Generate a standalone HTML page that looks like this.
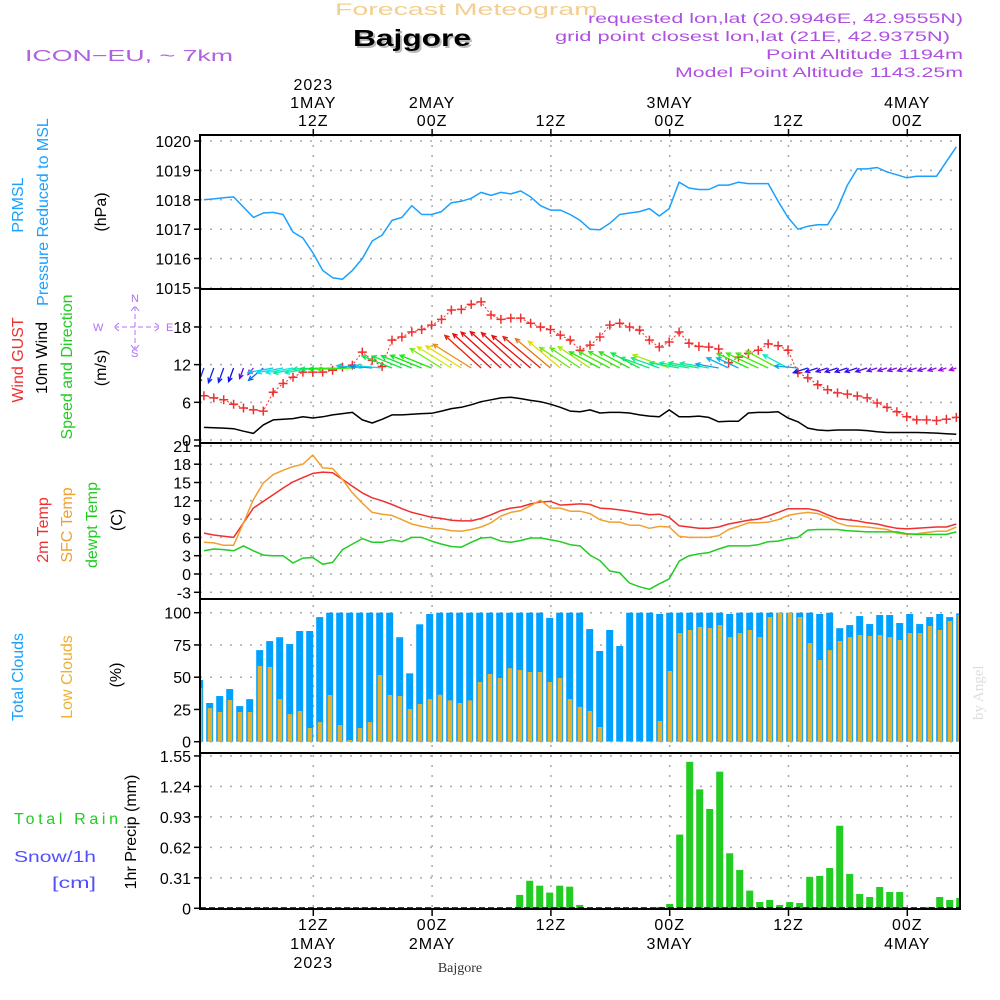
<!DOCTYPE html>
<html><head><meta charset="utf-8"><style>
html,body{margin:0;padding:0;background:#fff;}
svg{display:block;font-family:"Liberation Sans",sans-serif;}
</style></head><body>
<svg id="chart" width="1000" height="1000" viewBox="0 0 1000 1000" xmlns="http://www.w3.org/2000/svg">
<g id="hdr">
<text x="335" y="15" font-size="17" fill="#f3cf8f" textLength="263" lengthAdjust="spacingAndGlyphs">Forecast Meteogram</text>
<text x="355" y="48" font-size="23" font-weight="bold" fill="#bbb" textLength="118" lengthAdjust="spacingAndGlyphs">Bajgore</text>
<text x="353" y="46" font-size="23" font-weight="bold" fill="#000" textLength="118" lengthAdjust="spacingAndGlyphs">Bajgore</text>
<text x="25" y="61" font-size="16" fill="#b060e0" textLength="208" lengthAdjust="spacingAndGlyphs">ICON−EU, ~ 7km</text>
<g font-size="14" fill="#b050e0" text-anchor="end">
<text x="963" y="23" textLength="375" lengthAdjust="spacingAndGlyphs">requested lon,lat (20.9946E, 42.9555N)</text>
<text x="950" y="41" textLength="395" lengthAdjust="spacingAndGlyphs">grid point closest lon,lat (21E, 42.9375N)</text>
<text x="963" y="59" textLength="197" lengthAdjust="spacingAndGlyphs">Point Altitude 1194m</text>
<text x="963" y="77" textLength="288" lengthAdjust="spacingAndGlyphs">Model Point Altitude 1143.25m</text>
</g>
<text transform="translate(983,720) rotate(-90)" font-family="Liberation Serif,serif" font-size="15" fill="#ddd">by Angel</text>
<text x="460" y="972" font-family="Liberation Serif,serif" font-size="14" fill="#333" text-anchor="middle">Bajgore</text>
</g>
<g id="ylabels" font-size="16">
<text transform="translate(23,205) rotate(-90)" text-anchor="middle" fill="#1aa0ff">PRMSL</text>
<text transform="translate(48,212) rotate(-90)" text-anchor="middle" fill="#1aa0ff">Pressure Reduced to MSL</text>
<text transform="translate(106,212) rotate(-90)" text-anchor="middle" fill="#000">(hPa)</text>
<text transform="translate(23,360) rotate(-90)" text-anchor="middle" fill="#f03030">Wind GUST</text>
<text transform="translate(47,358) rotate(-90)" text-anchor="middle" fill="#000">10m Wind</text>
<text transform="translate(72,367) rotate(-90)" text-anchor="middle" fill="#22cc22">Speed and Direction</text>
<text transform="translate(106,368) rotate(-90)" text-anchor="middle" fill="#000">(m/s)</text>
<text transform="translate(48,530) rotate(-90)" text-anchor="middle" fill="#f03030">2m Temp</text>
<text transform="translate(72,525) rotate(-90)" text-anchor="middle" fill="#f0a030">SFC Temp</text>
<text transform="translate(97,525) rotate(-90)" text-anchor="middle" fill="#22cc22">dewpt Temp</text>
<text transform="translate(122,520) rotate(-90)" text-anchor="middle" fill="#000">(C)</text>
<text transform="translate(23,677) rotate(-90)" text-anchor="middle" fill="#1aa0ff">Total Clouds</text>
<text transform="translate(72,677) rotate(-90)" text-anchor="middle" fill="#f0b030">Low Clouds</text>
<text transform="translate(121,675) rotate(-90)" text-anchor="middle" fill="#000">(%)</text>
<text transform="translate(136,832) rotate(-90)" text-anchor="middle" fill="#000">1hr Precip (mm)</text>
<text x="14" y="824" fill="#22cc22" textLength="104" lengthAdjust="spacing">Total   Rain</text>
<text x="14" y="862" fill="#5050ff" textLength="82" lengthAdjust="spacingAndGlyphs">Snow/1h</text>
<text x="52" y="888" fill="#5050ff" textLength="44" lengthAdjust="spacingAndGlyphs">[cm]</text>
</g>
<g id="compass" fill="#b070f0" stroke="#b070f0" font-size="11">
<text x="93" y="331" stroke="none">W</text>
<text x="166" y="331" stroke="none">E</text>
<text x="131" y="302" stroke="none">N</text>
<text x="131" y="357" stroke="none">S</text>
<path d="M114 327H160M135 306V350M119 323L114 327L119 331M155 323L160 327L155 331M131 311L135 306L139 311M131 345L135 350L139 345" fill="none" stroke-width="1" stroke-dasharray="5,3"/>
</g>
<g id="plots"></g>
</svg>
<script>
// ---- data (hours 1..77 from 1 May 00Z) ----
const pressure=[1018.0,1018.03,1018.07,1018.1,1017.75,1017.4,1017.55,1017.57,1017.5,1016.9,1016.7,1016.2,1015.6,1015.35,1015.3,1015.6,1016.0,1016.6,1016.8,1017.3,1017.4,1017.8,1017.5,1017.5,1017.6,1017.9,1017.95,1018.05,1018.25,1018.15,1018.25,1018.2,1018.3,1018.1,1017.8,1017.65,1017.65,1017.5,1017.3,1017.0,1016.98,1017.2,1017.5,1017.55,1017.6,1017.7,1017.45,1017.7,1018.6,1018.4,1018.35,1018.35,1018.5,1018.5,1018.6,1018.55,1018.55,1018.55,1017.95,1017.4,1017.0,1017.1,1017.15,1017.15,1017.7,1018.5,1019.05,1019.05,1019.1,1018.95,1018.85,1018.75,1018.8,1018.8,1018.8,1019.3,1019.8];
const gust=[7.05,6.7,6.4,5.7,5.1,4.8,4.6,7.6,9.0,10.0,10.8,10.8,10.8,11.1,11.6,11.9,14,12.7,11.7,15.9,16.4,17.2,17.6,18.3,19.2,20.7,20.8,21.6,22,19.9,19.2,19.4,19.4,18.6,18,17.6,16.7,15.9,14.3,15.1,16.4,18.3,18.6,18,17.5,15.9,14.8,15.6,17.2,15.4,14.9,14.8,14.5,12.3,13.2,13.8,14.3,15.3,15,14.3,10.7,9.9,8.8,8.0,7.5,7.3,7.0,6.7,5.9,5.2,4.5,3.7,3.2,3.2,3.1,3.3,3.6];
const windSpeed=[2.0,1.95,1.9,1.8,1.4,1.05,2.4,3.2,3.3,3.4,3.7,3.5,3.7,4.0,4.2,4.4,3.2,2.7,3.3,4.0,4.0,4.1,4.2,4.25,4.6,5.0,5.2,5.6,6.1,6.4,6.7,6.8,6.6,6.3,6.1,5.7,5.2,4.6,4.5,4.8,4.3,4.4,4.4,4.3,4.0,3.8,3.7,4.8,3.7,3.7,3.8,3.6,2.9,3.0,3.0,4.3,4.4,4.4,4.5,3.5,2.9,1.9,1.6,1.5,1.6,1.6,1.6,1.5,1.3,1.2,1.2,1.2,1.2,1.15,1.1,1.0,0.9];
const windDir=[20,20,20,20,20,40,50,80,80,80,80,80,88,88,88,88,95,95,95,112,112,112,112,112,122,122,122,122,132,132,132,132,132,130,130,130,130,124,124,124,118,118,118,118,118,110,110,110,100,100,100,100,100,115,115,115,115,115,118,118,95,72,72,72,72,72,72,72,72,72,72,72,72,72,72,72,72];
const temp2m=[6.7,6.4,6.2,6.0,8.4,10.8,11.9,13.0,14.1,15.1,15.8,16.5,16.7,16.6,15.5,14.4,13.3,12.5,12.0,11.4,10.7,10.1,9.7,9.3,9.1,8.8,8.7,8.7,9.1,9.7,10.4,10.8,11.0,11.5,11.8,11.9,11.3,11.4,11.5,11.4,10.8,10.7,10.5,10.3,10.0,9.7,9.8,9.3,7.9,7.7,7.5,7.5,7.7,8.2,8.5,8.8,9.0,9.5,10.1,10.7,10.7,10.7,10.4,9.7,9.1,8.9,8.7,8.4,8.2,7.8,7.5,7.4,7.5,7.6,7.7,7.7,8.2];
const tempSfc=[5.2,5.1,4.7,4.7,8.4,12.2,14.9,16.3,17.0,17.6,18.0,19.5,17.4,17.3,15.5,13.3,11.6,10.1,9.8,9.6,8.9,8.2,7.8,7.5,7.4,7.1,7.0,7.3,7.7,8.4,9.5,10.1,10.4,11.2,12.1,10.8,10.8,10.3,10.3,9.9,8.9,8.5,8.5,8.0,8.0,7.5,7.8,7.7,6.2,6.0,6.0,6.0,6.3,7.3,7.8,8.4,8.4,8.5,8.9,9.6,9.9,10.1,9.9,9.3,8.4,7.9,7.8,7.7,7.5,7.3,6.7,6.5,6.6,6.8,7.0,7.0,7.7];
const dewpt=[3.8,4.1,4.0,3.8,4.6,3.8,3.1,3.0,3.0,1.8,2.6,2.7,1.6,1.9,4.0,4.9,5.8,5.2,5.2,5.6,5.3,6.0,6.0,5.4,4.9,4.5,4.4,5.2,5.9,6.0,5.4,5.2,5.5,5.9,5.9,5.6,5.3,4.8,4.6,3.1,2.2,0.5,0.2,-1.5,-2.1,-2.5,-1.6,-0.8,2.1,3.0,3.3,3.5,4.1,4.6,4.6,4.6,4.8,5.3,5.4,5.8,6.0,7.2,7.3,7.3,7.3,7.1,7.0,6.9,6.9,6.9,6.9,6.6,6.5,6.5,6.5,6.5,6.9];
const totalClouds=[47.8,30,35.4,40.8,27.6,33,71,78,81,75.7,85.8,85.8,96.6,100,100,100,100,100,100,100,81,53,91,99,100,100,100,100,100,100,100,100,100,100,100,96,100,100,100,87.3,70.3,86.6,74.2,100,100,100,99,100,100,100,100,100,100,99,100,100,100,100,100,100,100,100,99,100,88,90.4,97.4,91.2,98.2,98.2,92,99,91.2,96.6,99,96.6,99.5];
const lowClouds=[41.6,26,23,32.3,23,23,58.7,57.9,33,21.4,23.8,10.6,15.2,36.2,12.9,1.3,10.6,15.2,51.7,36.2,35.4,25.3,29.2,33,36.4,32,30,32,46.3,52.5,49.4,57,55.6,54,54,46.3,49.4,33,27,23.8,11.4,0.5,0.5,0.5,0.5,0.5,16,54.8,84.2,86.6,88.9,88.1,90.4,81.1,84.2,86.6,81.1,96.6,100,100,96.6,76.5,63.3,71,78,81.1,82.7,81.9,82.7,81.1,78.8,84.2,84.2,89.7,86.6,93.5,98.2];
const precip=[0,0,0,0,0,0,0,0,0,0,0,0,0,0,0,0,0,0,0,0,0,0,0,0,0,0,0,0,0,0,0,0,0.136,0.28,0.23,0.16,0.23,0.22,0.034,0,0,0,0,0,0,0,0.014,0.044,0.75,1.49,1.21,1.01,1.39,0.56,0.39,0.18,0.064,0.085,0.034,0.064,0.054,0.32,0.33,0.41,0.84,0.35,0.146,0.115,0.217,0.166,0.166,0,0,0.014,0.115,0.085,0.105];
const pressTicks=[1015,1016,1017,1018,1019,1020];
const windTicks=[0,6,12,18];
const tempTicks=[-3,0,3,6,9,12,15,18,21];
const cloudTicks=[0,25,50,75,100];
const precipTicks=[0,0.31,0.62,0.93,1.24,1.55];
const timeTicks=[12,24,36,48,60,72];
const topTimeLabels=[["2023","1MAY","12Z"],["2MAY","00Z"],["12Z"],["3MAY","00Z"],["12Z"],["4MAY","00Z"]];
const botTimeLabels=[["12Z","1MAY","2023"],["00Z","2MAY"],["12Z"],["00Z","3MAY"],["12Z"],["00Z","4MAY"]];

// ---- axis functions ----
const X=h=>194+9.9*h;
const BX=h=>189.7+10*h;
const panels={
 p:{y0:135,y1:289,f:v=>141+(1020-v)*29.4},
 w:{y0:289,y1:443,f:v=>440-v*6.28},
 t:{y0:443,y1:599,f:v=>574-v*6.1},
 c:{y0:599,y1:753,f:v=>741.7-v*1.29},
 r:{y0:753,y1:909,f:v=>908.3-v*98.3}
};
const NS='http://www.w3.org/2000/svg';
const root=document.getElementById('plots');
function mk(tag,attrs,parent){const e=document.createElementNS(NS,tag);for(const k in attrs)e.setAttribute(k,attrs[k]);(parent||root).appendChild(e);return e;}
const L=200,R=960;

// clip
const defs=mk('defs',{});
const cp=mk('clipPath',{id:'plotclip'},defs);
mk('rect',{x:L,y:135,width:R-L,height:774},cp);

// grids & ticks
function hgrid(pk,ticks,fmt,name){
  const P=panels[pk];
  ticks.forEach(v=>{
    const y=P.f(v);
    const g=mk('line',{x1:L,x2:R,y1:y,y2:y,stroke:'#aaa','stroke-width':1.5,'stroke-dasharray':'2,8'});
    
    
    const tk=mk('line',{x1:L-6,x2:L,y1:y,y2:y,stroke:'#000','stroke-width':1.5});
    
    
    const t=mk('text',{x:L-9,y:y+6,'font-size':16,'text-anchor':'end',fill:'#000'});
    t.textContent=fmt(v);
    
    
  });
}
hgrid('p',pressTicks,v=>String(v),'pressure');
hgrid('w',windTicks,v=>String(v),'wind');
hgrid('t',tempTicks,v=>String(v),'temp');
hgrid('c',cloudTicks,v=>String(v),'cloud');
hgrid('r',precipTicks,v=>v===0?'0':v.toFixed(2),'precip');
timeTicks.forEach(h=>{
  const x=X(h)+0.5;
  const v=mk('line',{x1:x,x2:x,y1:135,y2:909,stroke:'#aaa','stroke-width':1.5,'stroke-dasharray':'2,8'});
  
  
  mk('line',{x1:x,x2:x,y1:129,y2:135,stroke:'#000','stroke-width':1.5});
  mk('line',{x1:x,x2:x,y1:909,y2:916,stroke:'#000','stroke-width':1.5});
});
topTimeLabels.forEach((lines,i)=>{
  const x=X(timeTicks[i])+0.5;
  lines.forEach((s,j)=>{
    const y=126-(lines.length-1-j)*18;
    const t=mk('text',{x:x,y:y,'font-size':16,'text-anchor':'middle',fill:'#000','letter-spacing':'1'});
    t.textContent=s;
    
    
  });
});
botTimeLabels.forEach((lines,i)=>{
  const x=X(timeTicks[i])+0.5;
  lines.forEach((s,j)=>{
    const t=mk('text',{x:x,y:930+j*19,'font-size':16,'text-anchor':'middle',fill:'#000','letter-spacing':'1'});
    t.textContent=s;
    
    
  });
});

const plot=mk('g',{'clip-path':'url(#plotclip)'});



function line(arr,pk,color,w,name,dash){
  const P=panels[pk];
  const d=arr.map((v,i)=>(i?'L':'M')+X(i+1).toFixed(1)+' '+P.f(v).toFixed(1)).join('');
  const a={d:d,fill:'none',stroke:color,'stroke-width':w,'stroke-linejoin':'round'};
  if(dash)a['stroke-dasharray']=dash;
  const p=mk('path',a,plot);
  
  
}
// clouds
totalClouds.forEach((v,i)=>{
  const P=panels.c,x=BX(i+1),y=P.f(v);
  const r=mk('rect',{x:x-3.5,y:y,width:7,height:P.f(0)-y,fill:'#00a0ff'},plot);
  
  
});
lowClouds.forEach((v,i)=>{
  const P=panels.c,x=BX(i+1),y=P.f(v);
  const r=mk('rect',{x:x-2,y:y,width:4.5,height:P.f(0)-y,fill:'#e8b030'},plot);
  
  
});
// precip
precip.forEach((v,i)=>{
  if(v<=0)return;
  const P=panels.r,x=BX(i+1),y=P.f(v);
  const r=mk('rect',{x:x-3.5,y:y,width:7,height:P.f(0)-y,fill:'#22cc22'},plot);
  
  
});
mk('line',{x1:L,x2:R,y1:908,y2:908,stroke:'#000','stroke-width':1.5,'stroke-dasharray':'6,3'},plot);

line(pressure,'p','#1aa0ff',1.5,'pressure-line');
line(windSpeed,'w','#000',1.5,'wind-speed-line');
line(gust,'w','#f03030',1,'gust-line','2,2');
gust.forEach((v,i)=>{
  const x=X(i+1),y=panels.w.f(v);
  const m=mk('path',{d:`M${x-4.5} ${y}H${x+4.5}M${x} ${y-4.5}V${y+4.5}`,stroke:'#f03030','stroke-width':1.5},plot);
  
  
});
function speedColor(s){
  const st=[[1,280],[2,230],[3.3,185],[4.2,120],[5,65],[5.6,35],[6.2,0]];
  let h=st[0][1];
  if(s>=st[st.length-1][0])h=0;else for(let k=0;k<st.length-1;k++){if(s>=st[k][0]&&s<st[k+1][0]){const f=(s-st[k][0])/(st[k+1][0]-st[k][0]);h=st[k][1]+f*(st[k+1][1]-st[k][1]);}}
  return `hsl(${h},90%,48%)`;
}
windDir.forEach((d,i)=>{
  const s=windSpeed[i],len=8*s,x=X(i+1),y=368;
  const r=d*Math.PI/180;
  const ex=x-Math.sin(r)*len,ey=y+Math.cos(r)*len;
  const ang=Math.atan2(ey-y,ex-x);
  const hl=5,a1=ang+Math.PI-0.45,a2=ang+Math.PI+0.45;
  const c=speedColor(s);
  const p=mk('path',{d:`M${x} ${y}L${ex} ${ey}M${ex+hl*Math.cos(a1)} ${ey+hl*Math.sin(a1)}L${ex} ${ey}L${ex+hl*Math.cos(a2)} ${ey+hl*Math.sin(a2)}`,stroke:c,'stroke-width':1.3,fill:'none'},plot);
  
  
});
line(temp2m,'t','#f03030',1.5,'temp-2m-line');
line(tempSfc,'t','#f0a030',1.5,'temp-sfc-line');
line(dewpt,'t','#22cc22',1.5,'dewpoint-line');

// frames
['p','w','t','c','r'].forEach(k=>{
  const P=panels[k];
  const f=mk('rect',{x:L,y:P.y0,width:R-L,height:P.y1-P.y0,fill:'none',stroke:'#000','stroke-width':2});
  
  
});
</script>
</body></html>
